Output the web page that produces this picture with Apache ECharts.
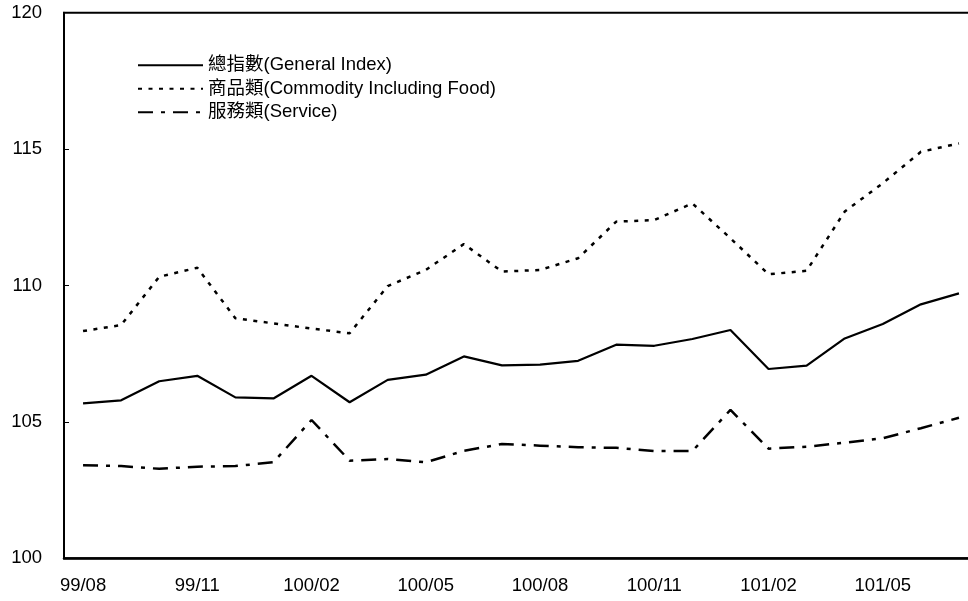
<!DOCTYPE html>
<html>
<head>
<meta charset="utf-8">
<script src="https://cdn.jsdelivr.net/npm/echarts@6/dist/echarts.min.js"></script>
<style>html,body{margin:0;padding:0;background:#fff;}#c{width:968px;height:601px;}</style>
</head>
<body>
<div id="c"></div>
<script>
var categories = ['99/08','99/09','99/10','99/11','99/12','100/01','100/02','100/03','100/04','100/05','100/06','100/07','100/08','100/09','100/10','100/11','100/12','101/01','101/02','101/03','101/04','101/05','101/06','101/07'];
var seriesNames = ['總指數(General Index)','商品類(Commodity Including Food)','服務類(Service)'];
var generalIndex = [105.68,105.79,106.49,106.69,105.90,105.86,106.69,105.72,106.54,106.73,107.40,107.07,107.10,107.24,107.83,107.79,108.04,108.37,106.94,107.06,108.06,108.59,109.31,109.71];
var commodity = [108.33,108.55,110.32,110.65,108.80,108.61,108.42,108.25,109.98,110.57,111.52,110.51,110.57,111.00,112.34,112.40,113.01,111.73,110.41,110.54,112.71,113.75,114.90,115.21];
var service = [103.41,103.38,103.28,103.36,103.38,103.52,105.07,103.58,103.64,103.52,103.94,104.19,104.13,104.07,104.05,103.93,103.93,105.44,104.02,104.09,104.24,104.40,104.77,105.15];
var yMin = 100, yMax = 120, yStep = 5;

var font = 'Arial, "Liberation Sans", "Noto Sans CJK TC", sans-serif';
var chart = echarts.init(document.getElementById('c'), null, {renderer: 'canvas'});
chart.setOption({
  animation: false,
  backgroundColor: '#fff',
  grid: {left: 64, top: 12.7, height: 545.6, width: 914, show: true, borderColor: '#000', borderWidth: 2, containLabel: false, outerBoundsMode: 'none'},
  legend: {
    orient: 'vertical', left: 137, top: 56, padding: 0,
    itemWidth: 65, itemHeight: 18.5, itemGap: 5,
    itemStyle: {opacity: 0},
    textStyle: {fontFamily: font, fontSize: 18.5, color: '#000', lineHeight: 18.5},
    data: seriesNames
  },
  xAxis: {
    type: 'category', data: categories, boundaryGap: true,
    axisLine: {lineStyle: {color: '#000', width: 2.5}},
    axisTick: {inside: true, length: 5, interval: 0, lineStyle: {color: '#000', width: 1}},
    axisLabel: {interval: 2, margin: 18, fontFamily: font, fontSize: 18.5, color: '#000'},
    splitLine: {show: false}
  },
  yAxis: {
    type: 'value', min: yMin, max: yMax, interval: yStep,
    axisLine: {show: true, lineStyle: {color: '#000', width: 2}},
    axisTick: {show: true, inside: true, length: 5, lineStyle: {color: '#000', width: 1}},
    axisLabel: {margin: 22, fontFamily: font, fontSize: 18.5, color: '#000'},
    splitLine: {show: false}
  },
  series: [
    {name: seriesNames[0], type: 'line', data: generalIndex, symbol: 'none',
     lineStyle: {color: '#000', width: 2.2, type: 'solid'}, itemStyle: {color: '#000'}},
    {name: seriesNames[1], type: 'line', data: commodity, symbol: 'none',
     lineStyle: {color: '#000', width: 2.5, type: [4, 6.5]}, itemStyle: {color: '#000'}},
    {name: seriesNames[2], type: 'line', data: service, symbol: 'none',
     lineStyle: {color: '#000', width: 2.5, type: [15, 8, 4, 8]}, itemStyle: {color: '#000'}}
  ]
});
</script>
</body>
</html>
